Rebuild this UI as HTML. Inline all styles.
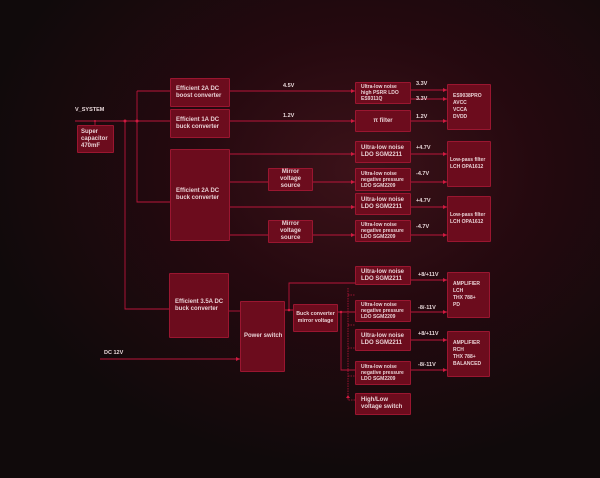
<!DOCTYPE html>
<html><head><style>
html,body{margin:0;padding:0}
body{width:600px;height:478px;overflow:hidden;position:relative;
background:radial-gradient(ellipse 380px 300px at 360px 170px,#3c1219 0%,#25090f 45%,#100a0b 100%);
font-family:"Liberation Sans",sans-serif;color:#e8d0d4;font-weight:bold}
.b{position:absolute;background:#6c0c1d;border:1px solid #9a1630;box-sizing:border-box;
display:flex;align-items:center;font-size:6px;line-height:7px;padding-left:5px;border-radius:1px;white-space:nowrap}
.c{justify-content:center;text-align:center;padding-left:0}
.t{position:absolute;font-size:5.5px;color:#e8d8da}
svg{position:absolute;left:0;top:0}
</style></head><body>
<svg width="600" height="478">
<g stroke="#b8163a" stroke-width="0.9" fill="none">
<path d="M75 121H355"/>
<path d="M137 91V202H170"/>
<path d="M137 91H170"/>
<path d="M125 121V309H169"/>
<path d="M95 121V125"/>
<path d="M230 91H355"/>
<path d="M230 121H355"/>
<path d="M230 154H355"/>
<path d="M230 182H268M313 182H355"/>
<path d="M230 207H355"/>
<path d="M230 235H268M313 235H355"/>
<path d="M411 90H447M411 99H447"/>
<path d="M411 121H447"/>
<path d="M411 154H447M411 182H447"/>
<path d="M411 207H447M411 235H447"/>
<path d="M229 311H240"/>
<path d="M100 359H240"/>
<path d="M285 310H293M289 310V283H355"/>
<path d="M338 312H355M341 312V370H355"/>
<path d="M411 280H447M411 312H447M411 340H447M411 370H447"/>
</g>
<g stroke="#b8163a" stroke-width="0.8" stroke-dasharray="1.5,1" fill="none">
<path d="M348 288V400H355M348 295H355M348 325H355M348 348H355M348 376H355"/>
</g>
<g fill="#d01a40">
<circle cx="125" cy="121" r="1.5"/><circle cx="137" cy="121" r="1.5"/><circle cx="95" cy="121" r="1"/>
<circle cx="289" cy="310" r="1.3"/><circle cx="341" cy="312" r="1.3"/>
<path d="M355 91l-4-2v4z M355 121l-4-2v4z M355 154l-4-2v4z M355 182l-4-2v4z M355 207l-4-2v4z M355 235l-4-2v4z"/>
<path d="M447 90l-4-2v4z M447 99l-4-2v4z M447 121l-4-2v4z M447 154l-4-2v4z M447 182l-4-2v4z M447 207l-4-2v4z M447 235l-4-2v4z"/>
<path d="M447 280l-4-2v4z M447 312l-4-2v4z M447 340l-4-2v4z M447 370l-4-2v4z M240 359l-4-2v4z M348 395l-2 3h4z"/>
</g>
</svg>
<div class="t" style="left:75px;top:107px">V_SYSTEM</div>
<div class="t" style="left:283px;top:83px">4.5V</div>
<div class="t" style="left:283px;top:113px">1.2V</div>
<div class="t" style="left:416px;top:81px">3.3V</div>
<div class="t" style="left:416px;top:96px">3.3V</div>
<div class="t" style="left:416px;top:114px">1.2V</div>
<div class="t" style="left:416px;top:145px">+4.7V</div>
<div class="t" style="left:416px;top:171px">-4.7V</div>
<div class="t" style="left:416px;top:198px">+4.7V</div>
<div class="t" style="left:416px;top:224px">-4.7V</div>
<div class="t" style="left:418px;top:272px">+8/+11V</div>
<div class="t" style="left:418px;top:305px">-8/-11V</div>
<div class="t" style="left:418px;top:331px">+8/+11V</div>
<div class="t" style="left:418px;top:362px">-8/-11V</div>
<div class="t" style="left:104px;top:350px">DC 12V</div>

<div class="b" style="left:77px;top:125px;width:37px;height:28px;padding-left:3px">Super<br>capacitor<br>470mF</div>
<div class="b" style="left:170px;top:78px;width:60px;height:29px">Efficient 2A DC<br>boost converter</div>
<div class="b" style="left:170px;top:109px;width:60px;height:29px">Efficient 1A DC<br>buck converter</div>
<div class="b" style="left:170px;top:149px;width:60px;height:92px">Efficient 2A DC<br>buck converter</div>
<div class="b c" style="left:268px;top:168px;width:45px;height:23px">Mirror<br>voltage<br>source</div>
<div class="b c" style="left:268px;top:220px;width:45px;height:23px">Mirror<br>voltage<br>source</div>
<div class="b" style="left:169px;top:273px;width:60px;height:65px">Efficient 3.5A DC<br>buck converter</div>
<div class="b" style="left:240px;top:301px;width:45px;height:71px;padding-left:3px">Power switch</div>
<div class="b c" style="left:293px;top:304px;width:45px;height:28px;font-size:5.3px">Buck converter<br>mirror voltage</div>

<div class="b" style="left:355px;top:82px;width:56px;height:22px;font-size:5px;line-height:6px">Ultra-low noise<br>high PSRR LDO<br>ES9311Q</div>
<div class="b c" style="left:355px;top:110px;width:56px;height:22px">π filter</div>
<div class="b" style="left:355px;top:141px;width:56px;height:22px">Ultra-low noise<br>LDO SGM2211</div>
<div class="b" style="left:355px;top:168px;width:56px;height:23px;font-size:5px;line-height:6px">Ultra-low noise<br>negative pressure<br>LDO SGM2209</div>
<div class="b" style="left:355px;top:193px;width:56px;height:22px">Ultra-low noise<br>LDO SGM2211</div>
<div class="b" style="left:355px;top:220px;width:56px;height:22px;font-size:5px;line-height:6px">Ultra-low noise<br>negative pressure<br>LDO SGM2209</div>
<div class="b" style="left:447px;top:84px;width:44px;height:46px;font-size:5px;line-height:7px">ES9038PRO<br>AVCC<br>VCCA<br>DVDD</div>
<div class="b" style="left:447px;top:141px;width:44px;height:46px;font-size:5px;padding-left:2px">Low-pass filter<br>LCH OPA1612</div>
<div class="b" style="left:447px;top:196px;width:44px;height:46px;font-size:5px;padding-left:2px">Low-pass filter<br>LCH OPA1612</div>

<div class="b" style="left:355px;top:266px;width:56px;height:19px">Ultra-low noise<br>LDO SGM2211</div>
<div class="b" style="left:355px;top:300px;width:56px;height:22px;font-size:5px;line-height:6px">Ultra-low noise<br>negative pressure<br>LDO SGM2209</div>
<div class="b" style="left:355px;top:329px;width:56px;height:22px">Ultra-low noise<br>LDO SGM2211</div>
<div class="b" style="left:355px;top:361px;width:56px;height:24px;font-size:5px;line-height:6px">Ultra-low noise<br>negative pressure<br>LDO SGM2209</div>
<div class="b" style="left:355px;top:393px;width:56px;height:22px">High/Low<br>voltage switch</div>
<div class="b" style="left:447px;top:272px;width:43px;height:46px;font-size:5px;line-height:7px">AMPLIFIER<br>LCH<br>THX 788+<br>PD</div>
<div class="b" style="left:447px;top:331px;width:43px;height:46px;font-size:5px;line-height:7px">AMPLIFIER<br>RCH<br>THX 788+<br>BALANCED</div>
</body></html>
